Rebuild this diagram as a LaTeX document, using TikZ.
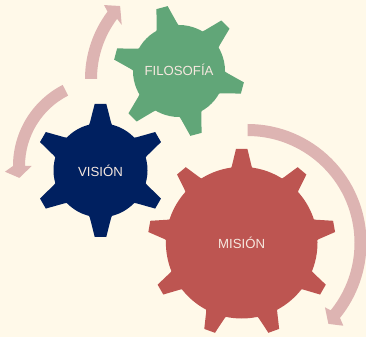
\documentclass[tikz,border=0pt]{standalone}
\usepackage{fontspec}
\setmainfont{Liberation Sans}
\definecolor{bgc}{HTML}{FFF9E9}
\definecolor{navyc}{HTML}{002060}
\definecolor{redc}{HTML}{BD5551}
\definecolor{greenc}{HTML}{61A678}
\definecolor{arrowc}{HTML}{DDB4B2}
\definecolor{labelc}{HTML}{F6E8DF}
\tikzset{
  gearlabel/.style={text=labelc,font=\fontsize{13.2}{15}\selectfont,inner sep=0pt},
  sweep/.style={fill=arrowc,draw=none}
}
% #1 cx, #2 cy, #3 body r, #4 tip r, #5 teeth, #6 first angle, #7 tip half-width, #8 base half-width, #9 colour
\newcommand{\gearshape}[9]{%
  \begin{scope}[shift={(#1,#2)}]
    \fill[#9] (0,0) circle[radius=#3];
    \pgfmathsetmacro{\gstep}{360/#5}
    \foreach \gi in {1,...,#5}{
      \pgfmathsetmacro{\gang}{#6+(\gi-1)*\gstep}
      \fill[#9,rotate=\gang] (#3-3,-#8-1.5) -- (#3+1,-#8) -- (#4,-#7) -- (#4,#7) -- (#3+1,#8) -- (#3-3,#8+1.5) -- cycle;
    }
  \end{scope}}
\begin{document}
\begin{tikzpicture}[x=1pt,y=1pt]
\useasboundingbox (0,0) rectangle (366,337);
\fill[bgc] (0,0) rectangle (366,337);
% sweeping arrows
\begin{scope}[shift={(247.5,94)}]
  \fill[sweep] (90:119) arc[start angle=90,end angle=-39,radius=119] -- (-40.8:126.6) -- (-45:114.4) -- (-39.7:100.7) -- (-39:107) arc[start angle=-39,end angle=90,radius=107] -- cycle;
\end{scope}
\begin{scope}[shift={(104,171)}]
  \fill[sweep] (117:91) arc[start angle=117,end angle=180,radius=91] -- (183.3:99.2) -- (188:85.5) -- (180:72.3) -- (180:79) arc[start angle=180,end angle=117,radius=79] -- cycle;
\end{scope}
\begin{scope}[shift={(197,258)}]
  \fill[sweep] (180:112) arc[start angle=180,end angle=143,radius=112] -- (141.5:118.8) -- (136.5:106) -- (144.3:92.7) -- (143:100) arc[start angle=143,end angle=180,radius=100] -- cycle;
\end{scope}
% gears
\gearshape{179}{266}{46}{65.6}{6}{105}{5.8}{10.5}{greenc}
\gearshape{100.5}{166.7}{47}{66.5}{6}{90}{5.8}{10.5}{navyc}
\gearshape{241.7}{94.3}{75.8}{93.8}{9}{90}{5.7}{9.8}{redc}
% labels
\node[gearlabel] (filosofia) at (179,267) {FILOSOFÍA};
\node[gearlabel] (vision) at (100.5,166.5) {VISIÓN};
\node[gearlabel] (mision) at (241.7,94.5) {MISIÓN};
\end{tikzpicture}
\end{document}
